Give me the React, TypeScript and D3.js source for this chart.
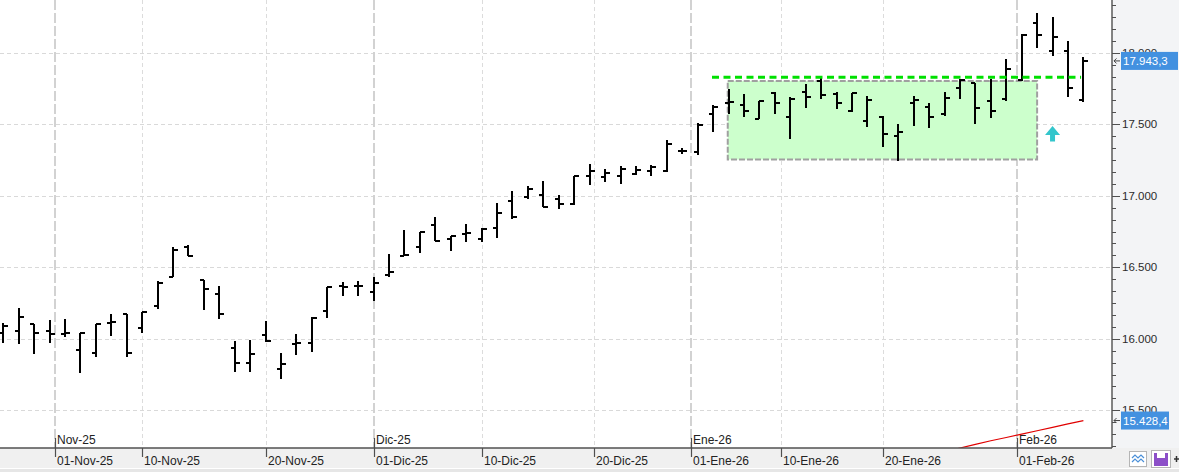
import React from 'react';
import * as d3 from 'd3';

// ---- Data ----
const opens = [16038, 16055, 16104, 16055, 16031, 15922, 15899, 16108, 16171, 16073,
  16231, 16430, 16644, 16411, 16313, 15934, 15829, 16027, 15787, 15964,
  15969, 16194, 16371, 16369, 16329, 16444, 16579, 16642, 16794, 16696,
  16736, 16696, 16775, 16964, 16990, 17004, 16978, 16941, 17141, 17129,
  17136, 17150, 17171, 17171, 17312, 17304, 17570, 17650, 17635, 17539,
  17717, 17549, 17724, 17805, 17712, 17595, 17521, 17553, 17420, 17647,
  17619, 17570, 17752, 17787, 17663, 17675, 17808, 18206, 18013, 18011, 17670];
const highs = [16108, 16213, 16106, 16131, 16138, 16040, 16101, 16171, 16172, 16190,
  16406, 16640, 16656, 16412, 16369, 15985, 15992, 16124, 15903, 16034,
  16155, 16364, 16397, 16402, 16430, 16593, 16761, 16749, 16850, 16721,
  16803, 16773, 16948, 17034, 17069, 17104, 17006, 17141, 17222, 17187,
  17206, 17208, 17213, 17390, 17336, 17507, 17635, 17745, 17712, 17665,
  17728, 17693, 17780, 17822, 17728, 17717, 17698, 17555, 17502, 17698,
  17647, 17724, 17817, 17789, 17817, 17957, 18129, 18276, 18248, 18080, 17973];
const lows = [15973, 15962, 15892, 15973, 16015, 15763, 15875, 16022, 15875, 16043,
  16206, 16430, 16579, 16201, 16140, 15770, 15770, 15980, 15721, 15887,
  15910, 16148, 16299, 16299, 16266, 16434, 16577, 16602, 16684, 16616,
  16679, 16679, 16703, 16836, 16978, 16920, 16910, 16936, 17078, 17094,
  17080, 17148, 17141, 17169, 17290, 17283, 17448, 17570, 17553, 17537,
  17570, 17397, 17616, 17679, 17609, 17588, 17483, 17338, 17240, 17490,
  17476, 17560, 17675, 17504, 17546, 17665, 17806, 18036, 17980, 17693, 17654];
const closes = [16090, 16150, 16038, 16031, 16038, 16038, 16101, 16115, 15899, 16190,
  16392, 16621, 16579, 16346, 16171, 15829, 15892, 15987, 15822, 15969,
  16148, 16360, 16364, 16371, 16388, 16469, 16584, 16749, 16686, 16717,
  16740, 16768, 16882, 16854, 17045, 16924, 16941, 17136, 17173, 17162,
  17185, 17178, 17199, 17362, 17315, 17493, 17619, 17653, 17595, 17663,
  17651, 17675, 17689, 17703, 17647, 17717, 17668, 17431, 17444, 17670,
  17549, 17682, 17810, 17612, 17591, 17885, 18127, 18124, 18108, 17752, 17943.3];

const dayTickLabels = ['01-Nov-25', '10-Nov-25', '20-Nov-25', '01-Dic-25', '10-Dic-25',
  '20-Dic-25', '01-Ene-26', '10-Ene-26', '20-Ene-26', '01-Feb-26'];
const dayTickPos = [3.33, 9, 17, 24, 31, 38.3, 44.54, 50.42, 57.02, 65.7];
const monthTickLabels = ['Nov-25', 'Dic-25', 'Ene-26', 'Feb-26'];
const monthTickPos = [3.33, 24, 44.54, 65.7];

const yTickValues = [15500, 16000, 16500, 17000, 17500, 18000];

const indicatorIdx = [60, 61, 62, 63, 64, 65, 66, 67, 68, 69, 70];
const indicatorVals = [15185, 15210, 15236, 15262, 15287, 15310, 15333, 15357, 15381, 15405, 15428.4];
const indicatorLast = 15428.4;

const resistanceLevel = 17829;
const resistanceSpan = [45.93, 69.85];
const boxSpan = [46.95, 67.0];
const boxLevels = [17254, 17803];
const arrowIdx = 68;
const arrowValue = 17488;

// ---- Layout ----
const W = 1179;
const H = 472;
const axisX = 1112;
const axisY = 448;

const locale = d3.formatLocale({ decimal: ',', thousands: '.', grouping: [3], currency: ['', ''] });
const fmt0 = locale.format(',.0f');
const fmt1 = locale.format(',.1f');

export default function App() {
  const x = d3.scaleLinear().domain([0, 70]).range([3.3, 1083.4]);
  const y = d3.scaleLinear().domain([15500, 18000]).range([410.3, 52.8]);

  const minorTicks: number[] = [];
  for (let v = 15000; v <= 18500; v += 500 / 6) {
    const yy = y(v);
    if (yy > 0 && yy < axisY - 1) minorTicks.push(yy);
  }

  const line = d3.line<number>()
    .x((_, i) => x(indicatorIdx[i]))
    .y((d) => y(d));

  const font = '"Liberation Sans", Arial, sans-serif';
  const ax = x(arrowIdx);
  const ay = y(arrowValue);

  const priceLabels = [{ v: closes[closes.length - 1], w: 57 }, { v: indicatorLast, w: 48 }];
  const topBoxY = y(priceLabels[0].v) - 9;

  return (
    <svg width={W} height={H} style={{ position: 'absolute', left: 0, top: 0, display: 'block' }}
      xmlns="http://www.w3.org/2000/svg">
      <defs>
        <clipPath id="plot">
          <rect x={0} y={0} width={axisX} height={axisY} />
        </clipPath>
        <clipPath id="hiddenLabel">
          <rect x={axisX} y={0} width={W - axisX} height={topBoxY} />
        </clipPath>
      </defs>
      <rect x={0} y={0} width={W} height={H} fill="#ffffff" />
      {/* right axis panel */}
      <rect x={axisX} y={0} width={W - axisX} height={axisY} fill="#f3f4f6" />
      {/* bottom band */}
      <rect x={0} y={axisY} width={W} height={20} fill="#f0f0f0" />
      <rect x={0} y={axisY + 20} width={W} height={1} fill="#ffffff" />
      <rect x={0} y={axisY + 21} width={W} height={3} fill="#e6e6e6" />

      <g clipPath="url(#plot)">
        {/* horizontal grid */}
        {yTickValues.map((v) => (
          <line key={'hg' + v} x1={0} x2={axisX} y1={Math.round(y(v)) + 0.5} y2={Math.round(y(v)) + 0.5}
            stroke="#d9d9d9" strokeWidth={1} strokeDasharray="4,3" />
        ))}
        {/* vertical grid */}
        {dayTickPos.map((p, i) => {
          const isMonth = monthTickPos.includes(p);
          const xx = Math.round(x(p));
          return isMonth ? (
            <line key={'vg' + i} x1={xx} x2={xx} y1={0} y2={axisY} stroke="#d2d2d2" strokeWidth={2}
              strokeDasharray="10,3" />
          ) : (
            <line key={'vg' + i} x1={xx + 0.5} x2={xx + 0.5} y1={0} y2={axisY} stroke="#dcdcdc" strokeWidth={1}
              strokeDasharray="4,3" />
          );
        })}

        {/* consolidation box */}
        <rect x={x(boxSpan[0])} y={y(boxLevels[1])} width={x(boxSpan[1]) - x(boxSpan[0])}
          height={y(boxLevels[0]) - y(boxLevels[1])} fill="#ccffcc" stroke="#a0a0a0" strokeWidth={2}
          strokeDasharray="6,2" />

        {/* OHLC bars */}
        {opens.map((o, i) => {
          const xx = Math.round(x(i));
          const yo = Math.round(y(o));
          const yc = Math.round(y(closes[i]));
          return (
            <g key={'b' + i} stroke="#000" strokeWidth={2} shapeRendering="crispEdges">
              <line x1={xx} x2={xx} y1={Math.round(y(highs[i]))} y2={Math.round(y(lows[i]))} />
              <line x1={xx - 4} x2={xx} y1={yo} y2={yo} />
              <line x1={xx} x2={xx + 5} y1={yc} y2={yc} />
            </g>
          );
        })}

        {/* resistance line */}
        <line x1={x(resistanceSpan[0])} x2={x(resistanceSpan[1])} y1={y(resistanceLevel)} y2={y(resistanceLevel)}
          stroke="#00e000" strokeWidth={3} strokeDasharray="7,4.5" />

        {/* up arrow */}
        <path d={`M${ax},${ay} L${ax + 7.5},${ay + 9} L${ax + 2.5},${ay + 9} L${ax + 2.5},${ay + 15.5} L${ax - 2.5},${ay + 15.5} L${ax - 2.5},${ay + 9} L${ax - 7.5},${ay + 9} Z`}
          fill="#33c6cc" />

        {/* indicator */}
        <path d={line(indicatorVals) || ''} fill="none" stroke="#e00000" strokeWidth={1.2} />
      </g>

      {/* x axis */}
      <line x1={0} x2={axisX} y1={axisY} y2={axisY} stroke="#505050" strokeWidth={1.4} />
      {dayTickPos.map((p, i) => {
        const xx = Math.round(x(p)) + 0.5;
        const isMonth = monthTickPos.includes(p);
        return (
          <g key={'xt' + i}>
            <line x1={xx} x2={xx} y1={isMonth ? axisY - 10 : axisY} y2={axisY + 9} stroke="#505050" strokeWidth={1.2} />
            <text x={xx + 1.5} y={axisY + 17} fontFamily={font} fontSize={12} fill="#222">{dayTickLabels[i]}</text>
          </g>
        );
      })}
      {monthTickPos.map((p, i) => (
        <text key={'mt' + i} x={Math.round(x(p)) + 2} y={axisY - 4} fontFamily={font} fontSize={12} fill="#222">
          {monthTickLabels[i]}
        </text>
      ))}

      {/* y axis */}
      <line x1={axisX} x2={axisX} y1={0} y2={axisY} stroke="#505050" strokeWidth={1.4} />
      {minorTicks.map((yy, i) => (
        <line key={'mn' + i} x1={axisX} x2={axisX + 4} y1={Math.round(yy) + 0.5} y2={Math.round(yy) + 0.5}
          stroke="#505050" strokeWidth={1} />
      ))}
      {yTickValues.map((v) => {
        const hidden = Math.abs(y(v) - y(priceLabels[0].v)) < 12;
        return (
          <g key={'yt' + v}>
            <line x1={axisX} x2={axisX + 8} y1={Math.round(y(v)) + 0.5} y2={Math.round(y(v)) + 0.5}
              stroke="#505050" strokeWidth={1} />
            <text x={axisX + 10} y={y(v)} dy="0.35em" fontFamily={font} fontSize={11.5} fill="#2b2b2b"
              clipPath={hidden ? 'url(#hiddenLabel)' : undefined}>
              {fmt0(v)}
            </text>
          </g>
        );
      })}

      {/* current value labels */}
      {priceLabels.map((d, i) => {
        const yy = y(d.v);
        return (
          <g key={'lbl' + i}>
            <rect x={1121} y={yy - 9} width={d.w} height={18} fill="#4391e0" />
            <text x={1123} y={yy} dy="0.36em" fontFamily={font} fontSize={11.5} fill="#ffffff">{fmt1(d.v)}</text>
            <path d={`M${1114},${yy} L${1120},${yy} M${1114},${yy} L${1116.5},${yy - 2.5} M${1114},${yy} L${1116.5},${yy + 2.5}`}
              stroke="#444" strokeWidth={1} fill="none" />
          </g>
        );
      })}

      {/* bottom-right icons */}
      <rect x={1129.5} y={451.5} width={17} height={15} fill="#ffffff" stroke="#b5b5b5" />
      <path d="M1132,458 L1135,455 L1138,458 L1141,455 L1144,458 M1132,462 L1135,459 L1138,462 L1141,459 L1144,462"
        stroke="#4a8fd8" strokeWidth={1.2} fill="none" />
      <rect x={1151.5} y={450.5} width={19} height={17} fill="#ffffff" stroke="#b5b5b5" />
      <rect x={1154} y={453} width={14} height={13} fill="#8c4fc8" />
      <rect x={1157} y={453} width={8} height={5} fill="#ffffff" />
      <path d="M1174,459 L1179,459 M1176.5,456 L1176.5,462" stroke="#333" strokeWidth={1.5} />
    </svg>
  );
}
